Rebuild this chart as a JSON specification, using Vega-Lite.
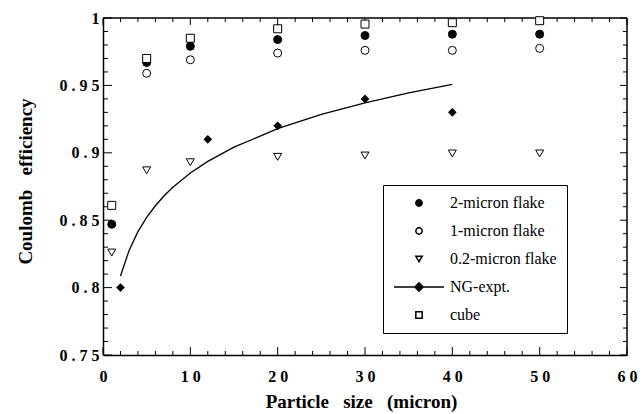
{
  "$schema": "https://vega.github.io/schema/vega-lite/v6.json",
  "width": 524,
  "height": 337,
  "autosize": "none",
  "padding": {"left": 103, "top": 18, "right": 15, "bottom": 59},
  "background": "white",
  "view": {"stroke": null},
  "datasets": {
    "one": [{"k": 1}],
    "xmajor": [{"v": 0}, {"v": 10}, {"v": 20}, {"v": 30}, {"v": 40}, {"v": 50}, {"v": 60}],
    "xminor": [{"v": 2}, {"v": 4}, {"v": 6}, {"v": 8}, {"v": 12}, {"v": 14}, {"v": 16}, {"v": 18}, {"v": 22}, {"v": 24}, {"v": 26}, {"v": 28}, {"v": 32}, {"v": 34}, {"v": 36}, {"v": 38}, {"v": 42}, {"v": 44}, {"v": 46}, {"v": 48}, {"v": 52}, {"v": 54}, {"v": 56}, {"v": 58}],
    "ymajor": [{"v": 0.75}, {"v": 0.8}, {"v": 0.85}, {"v": 0.9}, {"v": 0.95}, {"v": 1}],
    "yminor": [{"v": 0.76}, {"v": 0.77}, {"v": 0.78}, {"v": 0.79}, {"v": 0.81}, {"v": 0.82}, {"v": 0.83}, {"v": 0.84}, {"v": 0.86}, {"v": 0.87}, {"v": 0.88}, {"v": 0.89}, {"v": 0.91}, {"v": 0.92}, {"v": 0.93}, {"v": 0.94}, {"v": 0.96}, {"v": 0.97}, {"v": 0.98}, {"v": 0.99}],
    "curve": [
      {"x": 2, "y": 0.8086}, {"x": 3, "y": 0.8278}, {"x": 4, "y": 0.8415}, {"x": 5, "y": 0.8521},
      {"x": 6, "y": 0.8607}, {"x": 7, "y": 0.8681}, {"x": 8, "y": 0.8744}, {"x": 10, "y": 0.885},
      {"x": 12, "y": 0.8936}, {"x": 15, "y": 0.9042}, {"x": 20, "y": 0.9179}, {"x": 25, "y": 0.9285},
      {"x": 30, "y": 0.9371}, {"x": 35, "y": 0.9444}, {"x": 40, "y": 0.9508}
    ],
    "ng": [
      {"x": 2, "y": 0.8}, {"x": 12, "y": 0.91}, {"x": 20, "y": 0.92}, {"x": 30, "y": 0.94}, {"x": 40, "y": 0.93}
    ],
    "pts": [
      {"series": "2-micron flake", "x": 1, "y": 0.847},
      {"series": "2-micron flake", "x": 5, "y": 0.967},
      {"series": "2-micron flake", "x": 10, "y": 0.979},
      {"series": "2-micron flake", "x": 20, "y": 0.984},
      {"series": "2-micron flake", "x": 30, "y": 0.987},
      {"series": "2-micron flake", "x": 40, "y": 0.988},
      {"series": "2-micron flake", "x": 50, "y": 0.988},
      {"series": "1-micron flake", "x": 5, "y": 0.959},
      {"series": "1-micron flake", "x": 10, "y": 0.969},
      {"series": "1-micron flake", "x": 20, "y": 0.974},
      {"series": "1-micron flake", "x": 30, "y": 0.976},
      {"series": "1-micron flake", "x": 40, "y": 0.976},
      {"series": "1-micron flake", "x": 50, "y": 0.9775},
      {"series": "0.2-micron flake", "x": 1, "y": 0.826},
      {"series": "0.2-micron flake", "x": 5, "y": 0.887},
      {"series": "0.2-micron flake", "x": 10, "y": 0.893},
      {"series": "0.2-micron flake", "x": 20, "y": 0.897},
      {"series": "0.2-micron flake", "x": 30, "y": 0.898},
      {"series": "0.2-micron flake", "x": 40, "y": 0.8995},
      {"series": "0.2-micron flake", "x": 50, "y": 0.8995},
      {"series": "cube", "x": 1, "y": 0.861},
      {"series": "cube", "x": 5, "y": 0.97},
      {"series": "cube", "x": 10, "y": 0.985},
      {"series": "cube", "x": 20, "y": 0.992},
      {"series": "cube", "x": 30, "y": 0.9955},
      {"series": "cube", "x": 40, "y": 0.9965},
      {"series": "cube", "x": 50, "y": 0.998}
    ]
  },
  "layer": [
    {
      "data": {"name": "curve"},
      "mark": {"type": "line", "color": "black", "strokeWidth": 1.3},
      "encoding": {
        "x": {
          "field": "x", "type": "quantitative",
          "scale": {"domain": [0, 60], "nice": false, "zero": false},
          "axis": {
            "orient": "bottom", "grid": false,
            "domain": true, "domainColor": "black", "domainWidth": 1.5,
            "ticks": false,
            "values": [0,10,20,30,40,50,60],
            "labels": true,
            "labelExpr": "join(split(format(datum.value, 'd'), ''), ' ')",
            "labelFont": "Liberation Serif", "labelFontWeight": "bold", "labelFontSize": 16, "labelColor": "black",
            "labelPadding": 13, "labelFlush": false, "labelOverlap": false, "labelBaseline": "top",
            "title": "Particle\u00a0\u00a0\u00a0size\u00a0\u00a0\u00a0(micron)",
            "titleFont": "Liberation Serif", "titleFontWeight": "bold", "titleFontSize": 19, "titleColor": "black",
            "titleX": 258, "titleY": 52, "titleAlign": "center", "titleBaseline": "alphabetic"
          }
        },
        "y": {
          "field": "y", "type": "quantitative",
          "scale": {"domain": [0.75, 1], "nice": false, "zero": false},
          "axis": {
            "orient": "left", "grid": false,
            "domain": true, "domainColor": "black", "domainWidth": 1.5,
            "ticks": false,
            "values": [0.75, 0.8, 0.85, 0.9, 0.95, 1],
            "labels": true,
            "labelExpr": "join(split(format(datum.value, '.2~f'), ''), ' ')",
            "labelFont": "Liberation Serif", "labelFontWeight": "bold", "labelFontSize": 16, "labelColor": "black",
            "labelPadding": 4, "labelFlush": false, "labelOverlap": false,
            "title": "Coulomb\u00a0\u00a0\u00a0efficiency",
            "titleFont": "Liberation Serif", "titleFontWeight": "bold", "titleFontSize": 19, "titleColor": "black",
            "titleX": -78, "titleY": 163, "titleAngle": -90, "titleAlign": "center", "titleBaseline": "middle"
          }
        }
      }
    },
    {
      "data": {"name": "one"},
      "mark": {"type": "rule", "color": "black", "strokeWidth": 1.5},
      "encoding": {
        "x": {"datum": 0, "type": "quantitative", "scale": {"domain": [0, 60], "nice": false, "zero": false}},
        "x2": {"datum": 60},
        "y": {"datum": 1, "type": "quantitative", "scale": {"domain": [0.75, 1], "nice": false, "zero": false}}
      }
    },
    {
      "data": {"name": "one"},
      "mark": {"type": "rule", "color": "black", "strokeWidth": 1.5},
      "encoding": {
        "x": {"datum": 60, "type": "quantitative", "scale": {"domain": [0, 60], "nice": false, "zero": false}},
        "y": {"datum": 0.75, "type": "quantitative", "scale": {"domain": [0.75, 1], "nice": false, "zero": false}},
        "y2": {"datum": 1}
      }
    },
    {
      "data": {"name": "xmajor"},
      "mark": {"type": "tick", "orient": "vertical", "color": "black", "size": 8, "thickness": 1, "yOffset": -4, "opacity": 1},
      "encoding": {
        "x": {"field": "v", "type": "quantitative", "scale": {"domain": [0, 60], "nice": false, "zero": false}},
        "y": {"datum": 0.75, "type": "quantitative", "scale": {"domain": [0.75, 1], "nice": false, "zero": false}}
      }
    },
    {
      "data": {"name": "xmajor"},
      "mark": {"type": "tick", "orient": "vertical", "color": "black", "size": 7, "thickness": 1, "yOffset": 3.5, "opacity": 1},
      "encoding": {
        "x": {"field": "v", "type": "quantitative", "scale": {"domain": [0, 60], "nice": false, "zero": false}},
        "y": {"datum": 1, "type": "quantitative", "scale": {"domain": [0.75, 1], "nice": false, "zero": false}}
      }
    },
    {
      "data": {"name": "xminor"},
      "mark": {"type": "tick", "orient": "vertical", "color": "black", "size": 4, "thickness": 1, "yOffset": -2, "opacity": 1},
      "encoding": {
        "x": {"field": "v", "type": "quantitative", "scale": {"domain": [0, 60], "nice": false, "zero": false}},
        "y": {"datum": 0.75, "type": "quantitative", "scale": {"domain": [0.75, 1], "nice": false, "zero": false}}
      }
    },
    {
      "data": {"name": "xminor"},
      "mark": {"type": "tick", "orient": "vertical", "color": "black", "size": 4, "thickness": 1, "yOffset": 2, "opacity": 1},
      "encoding": {
        "x": {"field": "v", "type": "quantitative", "scale": {"domain": [0, 60], "nice": false, "zero": false}},
        "y": {"datum": 1, "type": "quantitative", "scale": {"domain": [0.75, 1], "nice": false, "zero": false}}
      }
    },
    {
      "data": {"name": "ymajor"},
      "mark": {"type": "tick", "orient": "horizontal", "color": "black", "size": 9, "thickness": 1, "xOffset": 4.5, "opacity": 1},
      "encoding": {
        "x": {"datum": 0, "type": "quantitative", "scale": {"domain": [0, 60], "nice": false, "zero": false}},
        "y": {"field": "v", "type": "quantitative", "scale": {"domain": [0.75, 1], "nice": false, "zero": false}}
      }
    },
    {
      "data": {"name": "ymajor"},
      "mark": {"type": "tick", "orient": "horizontal", "color": "black", "size": 7, "thickness": 1, "xOffset": -3.5, "opacity": 1},
      "encoding": {
        "x": {"datum": 60, "type": "quantitative", "scale": {"domain": [0, 60], "nice": false, "zero": false}},
        "y": {"field": "v", "type": "quantitative", "scale": {"domain": [0.75, 1], "nice": false, "zero": false}}
      }
    },
    {
      "data": {"name": "yminor"},
      "mark": {"type": "tick", "orient": "horizontal", "color": "black", "size": 5, "thickness": 1, "xOffset": 2.5, "opacity": 1},
      "encoding": {
        "x": {"datum": 0, "type": "quantitative", "scale": {"domain": [0, 60], "nice": false, "zero": false}},
        "y": {"field": "v", "type": "quantitative", "scale": {"domain": [0.75, 1], "nice": false, "zero": false}}
      }
    },
    {
      "data": {"name": "yminor"},
      "mark": {"type": "tick", "orient": "horizontal", "color": "black", "size": 4, "thickness": 1, "xOffset": -2, "opacity": 1},
      "encoding": {
        "x": {"datum": 60, "type": "quantitative", "scale": {"domain": [0, 60], "nice": false, "zero": false}},
        "y": {"field": "v", "type": "quantitative", "scale": {"domain": [0.75, 1], "nice": false, "zero": false}}
      }
    },
    {
      "data": {"name": "ng"},
      "mark": {"type": "point", "shape": "diamond", "filled": true, "color": "black", "opacity": 1, "size": 75},
      "encoding": {
        "x": {"field": "x", "type": "quantitative", "scale": {"domain": [0, 60], "nice": false, "zero": false}},
        "y": {"field": "y", "type": "quantitative", "scale": {"domain": [0.75, 1], "nice": false, "zero": false}}
      }
    },
    {
      "data": {"name": "pts"},
      "mark": {"type": "point", "filled": true, "stroke": "black", "strokeWidth": 1, "opacity": 1, "size": 64},
      "encoding": {
        "x": {"field": "x", "type": "quantitative", "scale": {"domain": [0, 60], "nice": false, "zero": false}},
        "y": {"field": "y", "type": "quantitative", "scale": {"domain": [0.75, 1], "nice": false, "zero": false}},
        "shape": {
          "field": "series", "type": "nominal",
          "scale": {
            "domain": ["2-micron flake", "1-micron flake", "0.2-micron flake", "NG-expt.", "cube"],
            "range": ["circle", "circle", "triangle-down", "M-7.9,0L7.9,0M-1.3,0L0,-1.3L1.3,0L0,1.3Z", "square"]
          },
          "legend": {
            "title": null, "orient": "none", "legendX": 280, "legendY": 167,
            "strokeColor": "black", "fillColor": "white", "padding": 10, "rowPadding": 12,
            "symbolSize": 40, "symbolOffset": 18, "labelOffset": 23,
            "labelFont": "Liberation Serif", "labelFontSize": 16, "labelColor": "black", "labelLimit": 300,
            "encode": {"symbols": {"update": {"stroke": {"value": "black"}, "strokeWidth": {"value": 1}}}}
          }
        },
        "fill": {
          "field": "series", "type": "nominal",
          "scale": {
            "domain": ["2-micron flake", "1-micron flake", "0.2-micron flake", "NG-expt.", "cube"],
            "range": ["black", "white", "white", "black", "white"]
          },
          "legend": {
            "title": null, "orient": "none", "legendX": 280, "legendY": 167,
            "strokeColor": "black", "fillColor": "white", "padding": 10, "rowPadding": 12,
            "symbolSize": 40, "symbolOffset": 18, "labelOffset": 23,
            "labelFont": "Liberation Serif", "labelFontSize": 16, "labelColor": "black", "labelLimit": 300,
            "encode": {"symbols": {"update": {"stroke": {"value": "black"}, "strokeWidth": {"value": 1}}}}
          }
        }
      }
    }
  ]
}
